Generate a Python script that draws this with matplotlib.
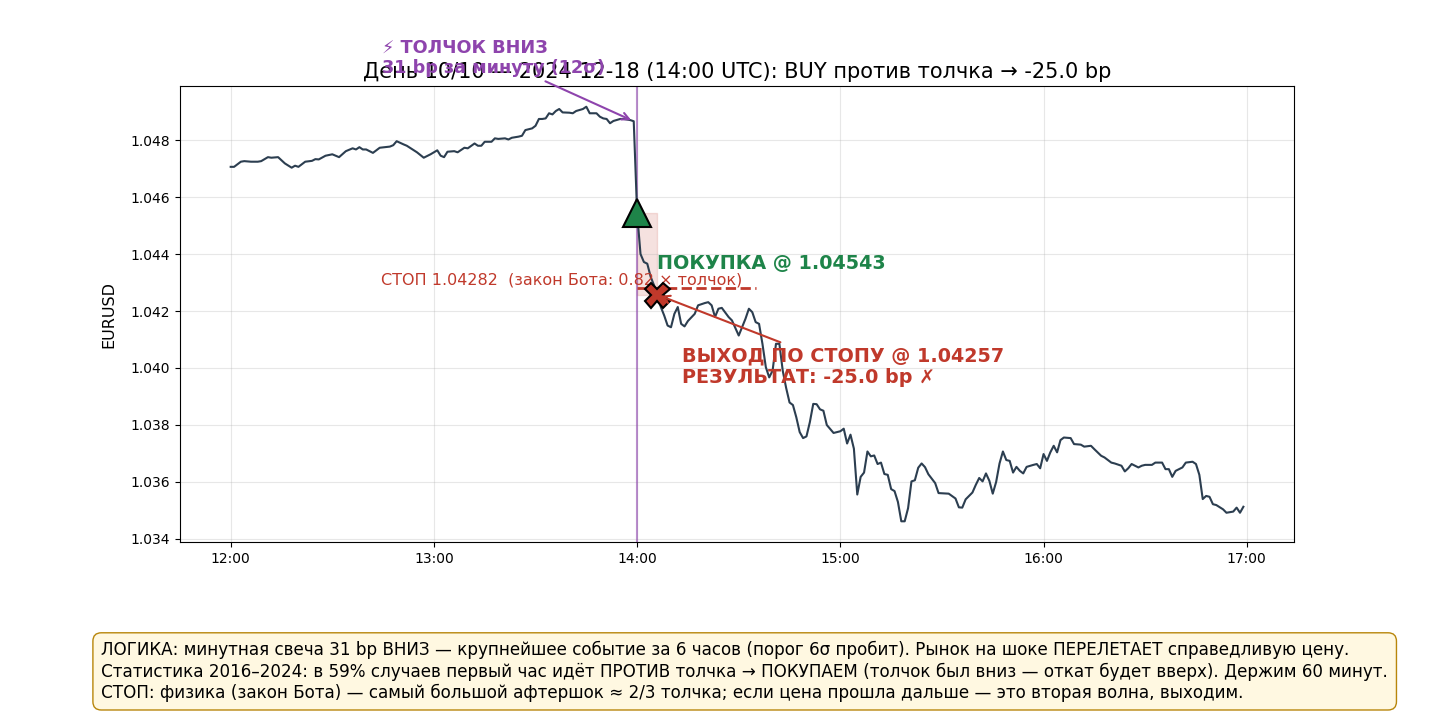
import matplotlib
matplotlib.use("Agg")
from matplotlib import pyplot as plt
import matplotlib.dates as mdates
import pandas as pd

# minute offsets from 12:00 UTC and EURUSD price
minutes = [
    0, 1, 3, 4, 6, 8, 9, 11, 12, 14, 16, 18, 19, 20, 22, 24, 25, 26, 28, 30,
    32, 34, 36, 37, 38, 39, 40, 42, 44, 47, 48, 49, 51, 52, 55, 57, 59, 61, 62, 63,
    64, 66, 67, 69, 70, 72, 73, 74, 75, 77, 78, 79, 81, 82, 83, 85, 86, 87, 89, 90,
    91, 92, 93, 94, 95, 96, 97, 98, 100, 101, 102, 104, 105, 106, 108, 109, 110, 111, 112, 113,
    115, 116, 118, 119, 120, 121, 122, 123, 124, 125, 126, 127, 128, 129, 130, 131, 132, 133, 134, 135,
    137, 138, 140, 141, 142, 143, 144, 145, 147, 148, 150, 152, 153, 154, 155, 156, 157, 158, 159, 160,
    161, 162, 163, 164, 165, 166, 167, 168, 169, 170, 171, 172, 173, 174, 175, 176, 178, 180, 181, 182,
    183, 184, 185, 186, 187, 188, 189, 190, 191, 192, 193, 194, 195, 196, 197, 198, 199, 200, 201, 202,
    203, 204, 205, 206, 208, 209, 212, 214, 215, 216, 217, 219, 220, 221, 222, 223, 224, 225, 226, 227,
    228, 229, 230, 231, 232, 233, 234, 235, 237, 238, 239, 240, 241, 242, 243, 244, 245, 246, 248, 249,
    251, 252, 254, 255, 257, 258, 260, 261, 263, 264, 265, 266, 268, 269, 270, 272, 273, 275, 276, 277,
    278, 279, 281, 282, 284, 285, 286, 287, 288, 289, 290, 291, 293, 294, 296, 297, 298, 299,
]
prices = [
    1.04706, 1.04706, 1.04724, 1.04726, 1.04724, 1.04724, 1.04726, 1.04740, 1.04738, 1.04740,
    1.04718, 1.04703, 1.04710, 1.04706, 1.04724, 1.04727, 1.04733, 1.04732, 1.04745, 1.04750,
    1.04740, 1.04761, 1.04771, 1.04767, 1.04775, 1.04767, 1.04767, 1.04755, 1.04773, 1.04777,
    1.04782, 1.04796, 1.04785, 1.04780, 1.04757, 1.04738, 1.04750, 1.04764, 1.04745, 1.04740,
    1.04759, 1.04761, 1.04757, 1.04773, 1.04771, 1.04788, 1.04780, 1.04780, 1.04794, 1.04794,
    1.04806, 1.04804, 1.04806, 1.04802, 1.04808, 1.04812, 1.04815, 1.04835, 1.04841, 1.04850,
    1.04874, 1.04874, 1.04876, 1.04894, 1.04890, 1.04902, 1.04909, 1.04897, 1.04896, 1.04894,
    1.04902, 1.04909, 1.04917, 1.04894, 1.04894, 1.04882, 1.04876, 1.04874, 1.04859, 1.04867,
    1.04874, 1.04874, 1.04870, 1.04866, 1.04543, 1.04400, 1.04372, 1.04366, 1.04320, 1.04290,
    1.04257, 1.04214, 1.04184, 1.04149, 1.04143, 1.04190, 1.04214, 1.04155, 1.04146, 1.04165,
    1.04190, 1.04220, 1.04228, 1.04231, 1.04220, 1.04179, 1.04208, 1.04211, 1.04179, 1.04167,
    1.04114, 1.04173, 1.04208, 1.04196, 1.04161, 1.04155, 1.04085, 1.04003, 1.03967, 1.03991,
    1.04085, 1.04085, 1.03990, 1.03930, 1.03879, 1.03870, 1.03827, 1.03775, 1.03754, 1.03760,
    1.03810, 1.03874, 1.03873, 1.03855, 1.03850, 1.03800, 1.03772, 1.03778, 1.03787, 1.03735,
    1.03766, 1.03717, 1.03556, 1.03618, 1.03633, 1.03707, 1.03690, 1.03693, 1.03663, 1.03668,
    1.03628, 1.03625, 1.03575, 1.03568, 1.03530, 1.03462, 1.03462, 1.03508, 1.03602, 1.03606,
    1.03650, 1.03665, 1.03652, 1.03627, 1.03596, 1.03561, 1.03559, 1.03542, 1.03511, 1.03510,
    1.03539, 1.03563, 1.03590, 1.03614, 1.03602, 1.03630, 1.03604, 1.03559, 1.03600, 1.03665,
    1.03707, 1.03677, 1.03674, 1.03633, 1.03653, 1.03639, 1.03630, 1.03653, 1.03660, 1.03663,
    1.03648, 1.03698, 1.03674, 1.03704, 1.03727, 1.03704, 1.03747, 1.03756, 1.03754, 1.03733,
    1.03731, 1.03724, 1.03727, 1.03715, 1.03692, 1.03686, 1.03668, 1.03665, 1.03657, 1.03637,
    1.03648, 1.03663, 1.03651, 1.03657, 1.03660, 1.03660, 1.03668, 1.03668, 1.03645, 1.03645,
    1.03618, 1.03639, 1.03651, 1.03668, 1.03671, 1.03663, 1.03625, 1.03540, 1.03551, 1.03548,
    1.03522, 1.03519, 1.03504, 1.03492, 1.03496, 1.03510, 1.03492, 1.03513,
]

start = pd.Timestamp("2024-12-18 12:00")
shock_min = 120
shock_from = (119, 1.04866)
entry_min, entry_price = 120, 1.04543
exit_min, exit_price = 126, 1.04257
stop_price = 1.04282
stop_line_end = 155

title = "День 10/10 — 2024-12-18 (14:00 UTC): BUY против толчка → -25.0 bp"
shock_label = "⚡ ТОЛЧОК ВНИЗ\n31 bp за минуту (12σ)"
entry_label = "ПОКУПКА @ 1.04543"
stop_label = "СТОП 1.04282  (закон Бота: 0.82 × толчок)"
exit_label = "ВЫХОД ПО СТОПУ @ 1.04257\nРЕЗУЛЬТАТ: -25.0 bp ✗"
logic_text = (
    "ЛОГИКА: минутная свеча 31 bp ВНИЗ — крупнейшее событие за 6 часов (порог 6σ пробит). "
    "Рынок на шоке ПЕРЕЛЕТАЕТ справедливую цену.\n"
    "Статистика 2016–2024: в 59% случаев первый час идёт ПРОТИВ толчка → ПОКУПАЕМ "
    "(толчок был вниз — откат будет вверх). Держим 60 минут.\n"
    "СТОП: физика (закон Бота) — самый большой афтершок ≈ 2/3 толчка; "
    "если цена прошла дальше — это вторая волна, выходим."
)

RED = "#c0392b"
GREEN = "#1e8449"
PURPLE = "#8e44ad"


def t(m):
    return start + pd.Timedelta(minutes=m)


def main():
    times = [t(m) for m in minutes]

    fig = plt.figure(figsize=(14.37, 7.13), dpi=100)
    ax = fig.add_axes([0.1253, 0.2398, 0.7752, 0.6396])

    ax.plot(times, prices, color="#2c3e50", lw=1.5, zorder=3)
    ax.axvline(t(shock_min), color=PURPLE, lw=1.5, alpha=0.6, zorder=2)

    # risk zone between entry and exit
    ax.fill_between([t(entry_min), t(exit_min)], exit_price, entry_price,
                    color=RED, alpha=0.15, zorder=1)

    ax.hlines(stop_price, t(entry_min), t(stop_line_end), colors=RED,
              linestyles="--", lw=2, zorder=4)
    ax.text(t(151), stop_price, stop_label, color=RED, fontsize=11.5,
            ha="right", va="bottom", zorder=5)

    ax.plot([t(entry_min)], [entry_price], marker="^", ms=20, color=GREEN,
            mec="black", mew=1.5, zorder=6)
    ax.plot([t(exit_min)], [exit_price], marker="X", ms=18, color=RED,
            mec="black", mew=1.5, zorder=6)

    ax.annotate(shock_label, xy=(t(shock_from[0]), shock_from[1]),
                xytext=(t(77.7), 1.05088), ha="center", va="center", ma="left",
                fontsize=12.7, fontweight="bold", color=PURPLE,
                arrowprops=dict(arrowstyle="->", color=PURPLE, lw=1.5),
                annotation_clip=False, zorder=7)

    ax.text(t(126), 1.04367, entry_label, color=GREEN, fontsize=13.8,
            fontweight="bold", ha="left", va="center", zorder=7)

    ax.annotate(exit_label, xy=(t(exit_min), exit_price),
                xytext=(t(133.3), 1.04005), ha="left", va="center",
                fontsize=13.8, fontweight="bold", color=RED,
                arrowprops=dict(arrowstyle="->", color=RED, lw=1.5), zorder=7)

    ax.set_title(title, fontsize=15)
    ax.set_ylabel("EURUSD", fontsize=11.5, labelpad=10)
    ax.xaxis.set_major_locator(mdates.HourLocator())
    ax.xaxis.set_major_formatter(mdates.DateFormatter("%H:%M"))
    ax.grid(alpha=0.3)

    fig.text(0.0705, 0.016, logic_text, fontsize=12.1, ha="left", va="bottom",
             bbox=dict(boxstyle="round,pad=0.5", facecolor="#fff8e1",
                       edgecolor="#b8860b"))

    fig.savefig("out.png", dpi=100)
    plt.close(fig)


if __name__ == "__main__":
    main()
